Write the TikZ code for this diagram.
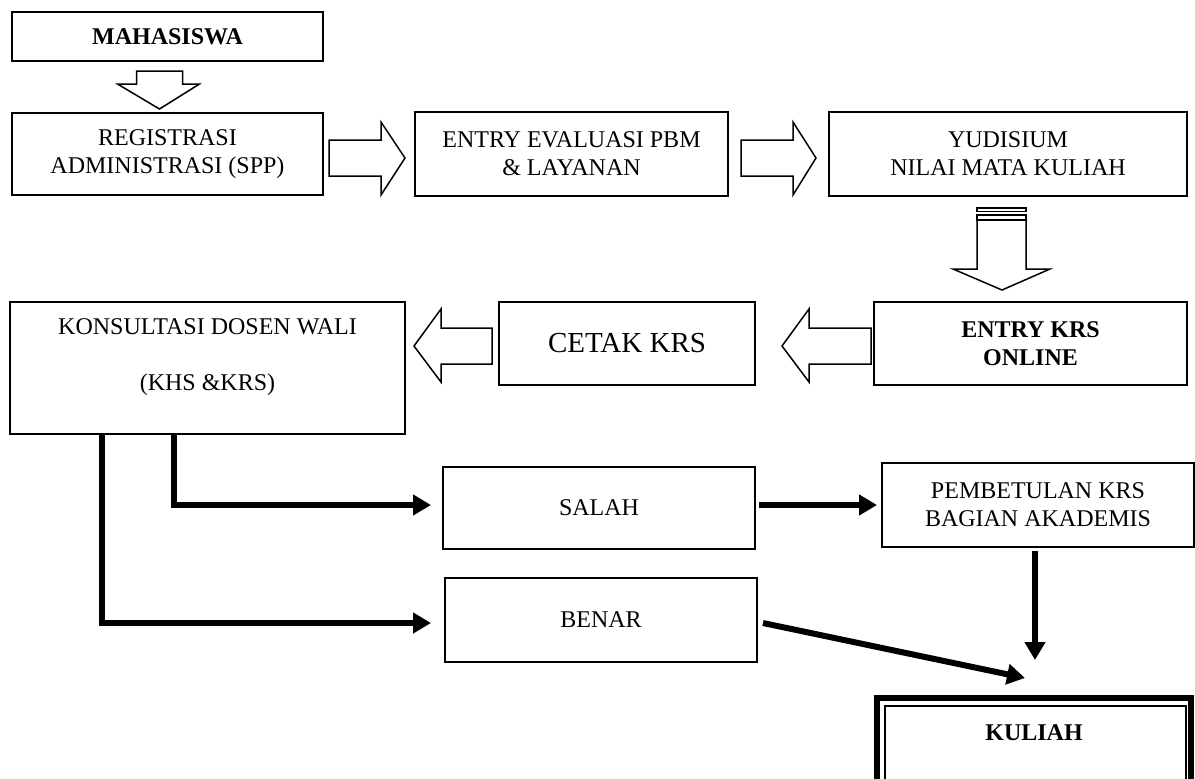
\documentclass[tikz,border=0pt]{standalone}
\usepackage{fontspec}
\setmainfont{Liberation Serif}
\usetikzlibrary{calc,arrows.meta}

\begin{document}
\begin{tikzpicture}[x=0.5pt,y=-0.5pt,
  box/.style={draw,line width=1pt,align=center,inner sep=0pt,font=\fontsize{12}{14}\selectfont},
  blockarrow/.style={draw,line width=0.75pt,fill=white,line join=miter},
  conn/.style={line width=3pt,-{Triangle[length=9pt,width=10pt]}}]
\useasboundingbox (0,0) rectangle (1195,778);
% boxes
\node[box,font=\fontsize{12}{14}\selectfont\bfseries,minimum width=155.5pt,minimum height=24.5pt] (mhs) at (167.5,36.5) {MAHASISWA};
\node[box,minimum width=155.5pt,minimum height=41pt] (reg) at (167.5,154) {REGISTRASI\\ADMINISTRASI (SPP)};
\node[box,minimum width=156.5pt,minimum height=42pt] (eval) at (571.5,154) {ENTRY EVALUASI PBM\\\& LAYANAN};
\node[box,minimum width=179pt,minimum height=42pt] (yud) at (1008,154) {YUDISIUM\\NILAI MATA KULIAH};
\node[box,font=\fontsize{12}{14}\selectfont\bfseries,minimum width=156.5pt,minimum height=41.5pt] (ekrs) at (1030.5,343.5) {ENTRY KRS\\ONLINE};
\node[box,font=\fontsize{14.5}{17}\selectfont,minimum width=128pt,minimum height=41.5pt] (cetak) at (627,343.5) {CETAK KRS};
\node[box,minimum width=197.5pt,minimum height=66pt] (kons) at (207.5,368) {KONSULTASI DOSEN WALI\\[14pt](KHS \&KRS)\rule[-13pt]{0pt}{13pt}};
\node[box,minimum width=156pt,minimum height=41pt] (salah) at (599,508) {SALAH};
\node[box,minimum width=156pt,minimum height=42pt] (benar) at (601,620) {BENAR};
\node[box,minimum width=156pt,minimum height=42pt] (pemb) at (1038,505) {PEMBETULAN KRS\\BAGIAN AKADEMIS};
% kuliah, double frame running off the page
\begin{scope}
\clip (0,0) rectangle (1195,778);
\draw[line width=3pt] (877,698) rectangle (1191,860);
\draw[line width=0.7pt] (885,706) rectangle (1186,860);
\end{scope}
\node[font=\fontsize{12}{14}\selectfont\bfseries] (kuliah) at (1034,733) {KULIAH};
\coordinate (kin1) at (1035,660);
\coordinate (kin2) at (1025,678);
% block arrows
\draw[blockarrow] ($(mhs.south)+(-31,9)$) -- ++(46,0) -- ++(0,13) -- ++(17,0) -- ++(-40,25) -- ++(-42,-25) -- ++(19,0) -- cycle;
\draw[blockarrow] ($(reg.east)+(5,-14)$) -- ++(52,0) -- ++(0,-18) -- ++(24,36) -- ++(-24,37) -- ++(0,-19) -- ++(-52,0) -- cycle;
\draw[blockarrow] ($(eval.east)+(12,-14)$) -- ++(52,0) -- ++(0,-18) -- ++(23,36) -- ++(-23,37) -- ++(0,-19) -- ++(-52,0) -- cycle;
\draw[blockarrow] ($(yud.south)+(-31,11)$) rectangle ++(49,3.5);
\draw[blockarrow] ($(yud.south)+(-31,18)$) rectangle ++(49,5);
\draw[blockarrow] ($(yud.south)+(-31,23)$) -- ++(49,0) -- ++(0,49) -- ++(24,0) -- ++(-48,21) -- ++(-49,-21) -- ++(24,0) -- cycle;
\draw[blockarrow] ($(ekrs.west)+(-2,-15.5)$) -- ++(-62,0) -- ++(0,-19) -- ++(-27,37) -- ++(27,36) -- ++(0,-18) -- ++(62,0) -- cycle;
\draw[blockarrow] ($(cetak.west)+(-6,-15.5)$) -- ++(-51,0) -- ++(0,-19) -- ++(-27,37) -- ++(27,36) -- ++(0,-18) -- ++(51,0) -- cycle;
% thick connectors
\draw[conn,shorten >=5.5pt] ($(kons.south west)+(165,0)$) |- ($(salah.west)+(0,-3)$);
\draw[conn,shorten >=6.5pt] ($(kons.south west)+(93,0)$) |- ($(benar.west)+(0,3)$);
\draw[conn] ($(salah.east)+(3,-3)$) -- ($(pemb.west)+(-4,0)$);
\draw[conn] ($(pemb.south)+(-3,3)$) -- (kin1);
\draw[conn] ($(benar.east)+(5,3)$) -- (kin2);
\end{tikzpicture}
\end{document}
